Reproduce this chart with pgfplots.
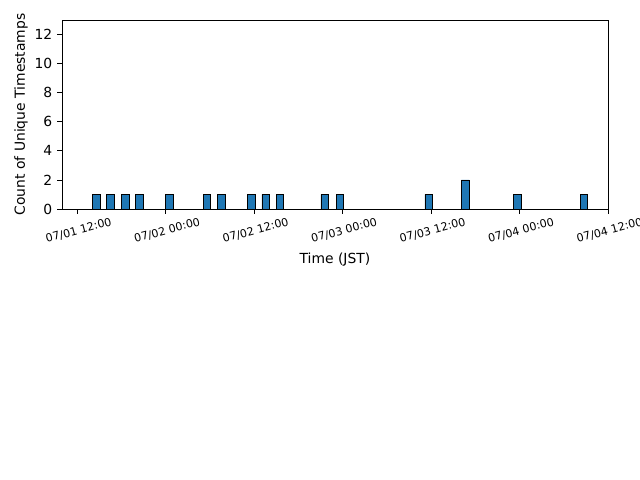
\documentclass[border=0pt]{standalone}
\usepackage{pgfplots}
\pgfplotsset{compat=1.18}
\usepackage{fontspec}
\setmainfont{DejaVu Sans}
\definecolor{barblue}{HTML}{1F77B4}

\begin{document}
\begin{tikzpicture}[x=1pt,y=1pt]
  % full canvas (6.4in x 4.8in); anything beyond it is cut off
  \clip (0,0) rectangle (460.8,345.6);
  \path (0,0) rectangle (460.8,345.6);
  \begin{axis}[
    at={(44.64pt,195.1pt)}, anchor=south west,
    scale only axis, width=393.1pt, height=136.1pt,
    xmin=-2.05, xmax=72, ymin=0, ymax=13,
    axis line style={line width=0.6pt},
    tick align=outside, tick style={line width=0.6pt, black},
    major tick length=3.5pt,
    xtick pos=bottom, ytick pos=left,
    xtick={0,12,24,36,48,60,72},
    xticklabels={07/01 12:00,07/02 00:00,07/02 12:00,07/03 00:00,07/03 12:00,07/04 00:00,07/04 12:00},
    x tick label style={font=\fontsize{8}{9.6}\selectfont, rotate=15, anchor=north, xshift=-2pt, yshift=-5pt},
    ytick={0,2,4,6,8,10,12},
    yticklabels={0,2,4,6,8,10,12},
    y tick label style={font=\fontsize{10}{12}\selectfont},
    xlabel={Time (JST)}, ylabel={Count of Unique Timestamps},
    label style={font=\fontsize{10}{12}\selectfont},
    xlabel style={at={(axis description cs:0.5,0)}, anchor=north, yshift=-28pt},
    ylabel style={yshift=-2pt},
  ]
    % hours since 07/01 12:00 JST, one bin per hour
    \addplot[ybar, bar width=1.05, bar shift=0pt, fill=barblue, draw=black, line width=0.6pt]
      coordinates {
        (2.58,1) (4.52,1) (6.51,1) (8.5,1) (12.5,1)
        (17.6,1) (19.6,1) (23.6,1) (25.6,1) (27.5,1)
        (33.6,1) (35.65,1) (47.7,1) (52.65,2) (59.75,1) (68.75,1)
      };
  \end{axis}
\end{tikzpicture}
\end{document}
